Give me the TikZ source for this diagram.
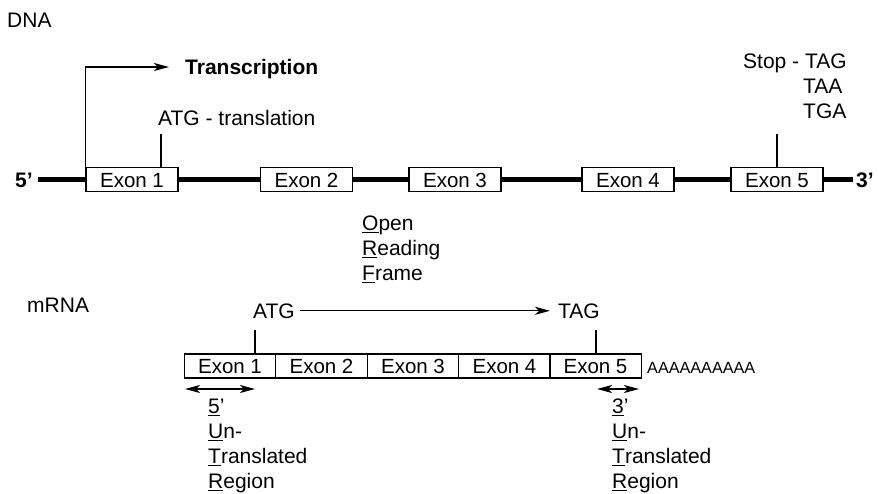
\documentclass[tikz,border=0pt]{standalone}
\usepackage{fontspec}
\setmainfont{Liberation Sans}
\usetikzlibrary{arrows.meta}
\newcommand\firstul[1]{\setbox0\hbox{#1}\rlap{\rule[-3pt]{\wd0}{1.1pt}}\box0}
\begin{document}
\begin{tikzpicture}[x=1pt,y=-1pt,
  txt/.style={inner sep=0pt, anchor=base west, font=\fontsize{21}{25}\selectfont},
  small/.style={inner sep=0pt, anchor=base west, font=\fontsize{16.2}{20}\selectfont},
  exon/.style={draw, line width=1.1pt, fill=white, minimum width=92pt, minimum height=24pt, inner sep=0pt, text height=15pt, text depth=0pt, font=\fontsize{20.5}{25}\selectfont},
  cell/.style={draw, line width=1.1pt, minimum width=91.2pt, minimum height=24pt, inner sep=0pt, text height=15pt, text depth=0pt, font=\fontsize{20.5}{25}\selectfont},
  thin/.style={line width=1.1pt},
  dnaline/.style={line width=5pt},
  arr/.style={-{Stealth[length=15pt,width=8pt,inset=4pt]}, line width=1.1pt},
  darr/.style={{Stealth[length=15pt,width=8pt,inset=4pt]}-{Stealth[length=15pt,width=8pt,inset=4pt]}, line width=1.1pt}]
\useasboundingbox (0,0) rectangle (878,493);

% ---------- DNA ----------
\node[txt] (dna) at (7,27) {DNA};
\node[txt, font=\fontsize{21}{25}\selectfont\bfseries] (p5) at (15,187) {5’};
\node[txt, font=\fontsize{21}{25}\selectfont\bfseries] (p3) at (856,187) {3’};
\coordinate (ls) at (38,179.5);
\coordinate (le) at (853,179.5);
\draw[dnaline] (ls) -- (le);

\node[exon] (e1) at (132,179.5) {Exon 1};
\node[exon] (e2) at (306.5,179.5) {Exon 2};
\node[exon] (e3) at (455,179.5) {Exon 3};
\node[exon] (e4) at (628,179.5) {Exon 4};
\node[exon] (e5) at (777,179.5) {Exon 5};

% transcription
\coordinate (trtip) at (169,67);
\draw[arr] (e1.north west) |- (trtip);
\node[txt, font=\fontsize{21}{25}\selectfont\bfseries] (trans) at (185,74) {Transcription};

% ATG translation
\node[txt] (atgt) at (158,125) {ATG - translation};
\coordinate (atgtick) at (161,134);
\draw[thin] (atgtick) -- (atgtick |- e1.north);

% Stop codons
\node[txt] (stop) at (743,68) {Stop - TAG};
\node[txt] (taa) at (803,93) {TAA};
\node[txt] (tga) at (803,118) {TGA};
\coordinate (stoptick) at (777,134);
\draw[thin] (stoptick) -- (e5.north);

% ORF
\node[txt] (orf1) at (362,230) {\firstul{O}pen};
\node[txt] (orf2) at (362,255) {\firstul{R}eading};
\node[txt] (orf3) at (362,280) {\firstul{F}rame};

% ---------- mRNA ----------
\node[txt] (mrna) at (27,312) {mRNA};
\node[txt] (atg) at (253,318) {ATG};
\node[txt] (tag) at (558,318) {TAG};
\draw[arr, shorten <=5pt, shorten >=8pt] (atg.east) -- (tag.west);

\node[cell] (m1) at (230,366) {Exon 1};
\node[cell] (m2) at (321.5,366) {Exon 2};
\node[cell] (m3) at (413,366) {Exon 3};
\node[cell] (m4) at (504.5,366) {Exon 4};
\node[cell] (m5) at (595.5,366) {Exon 5};
\node[small] (polya) at (647,373) {AAAAAAAAAA};

\coordinate (atgdrop) at (255,330);
\draw[thin] (atgdrop) -- (atgdrop |- m1.north);
\coordinate (tagdrop) at (596,330);
\draw[thin] (tagdrop) -- (tagdrop |- m5.north);

% UTRs
\coordinate (u5a) at (185,389);
\coordinate (u5b) at (255,389);
\draw[darr] (u5a) -- (u5b);
\node[txt] (u51) at (208,413) {\firstul{5}’};
\node[txt] (u52) at (208,438) {\firstul{U}n-};
\node[txt] (u53) at (208,463) {\firstul{T}ranslated};
\node[txt] (u54) at (208,488) {\firstul{R}egion};

\coordinate (u3a) at (597,389);
\coordinate (u3b) at (639,389);
\draw[darr] (u3a) -- (u3b);
\node[txt] (u31) at (612,413) {\firstul{3}’};
\node[txt] (u32) at (612,438) {\firstul{U}n-};
\node[txt] (u33) at (612,463) {\firstul{T}ranslated};
\node[txt] (u34) at (612,488) {\firstul{R}egion};
\end{tikzpicture}
\end{document}
